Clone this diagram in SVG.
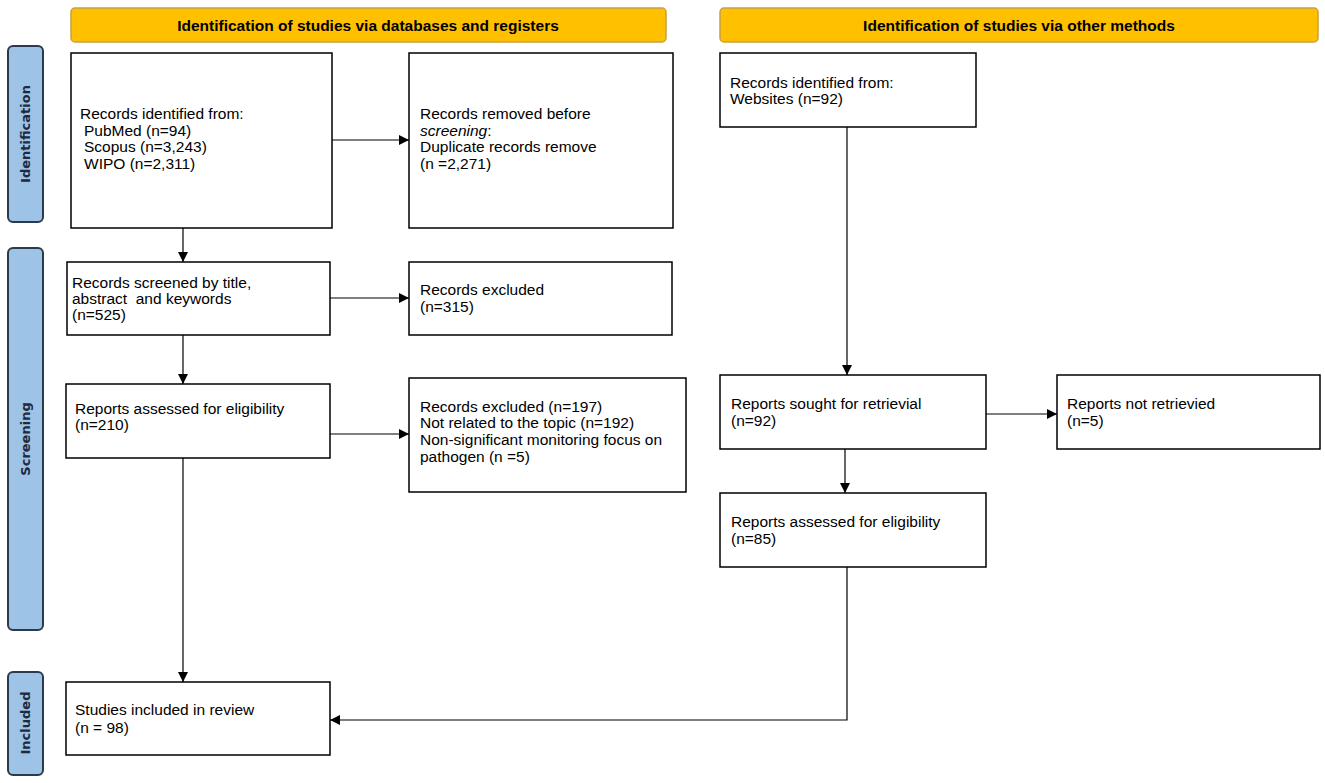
<svg xmlns="http://www.w3.org/2000/svg" width="1325" height="783" viewBox="0 0 1325 783">
<defs>
<marker id="arr" viewBox="0 0 10 10" refX="10" refY="5" markerWidth="10" markerHeight="10" markerUnits="userSpaceOnUse" orient="auto">
<path d="M0,0 L10,5 L0,10 z" fill="#000"/>
</marker>
</defs>
<style>
.box{fill:#fff;stroke:#000;stroke-width:1.5}
.hdr{fill:#FFC000;stroke:#C8A040;stroke-width:1.5}
.side{fill:#9DC3E6;stroke:#2B3A4F;stroke-width:2}
.t{font-family:"Liberation Sans",Arial,sans-serif;font-size:15.5px;fill:#000;white-space:pre}
.h{font-family:"Liberation Sans",Arial,sans-serif;font-size:15.5px;font-weight:bold;fill:#000;text-anchor:middle}
.s{font-family:"DejaVu Sans","Liberation Sans",sans-serif;font-size:13px;font-weight:bold;fill:#1F2A3F;text-anchor:middle}
.c{fill:none;stroke:#000;stroke-width:1.2}
</style>
<rect width="1325" height="783" fill="#fff"/>
<g id="header-databases"><rect class="hdr" x="71" y="8" width="595" height="34" rx="4"/><text class="h" x="368" y="31">Identification of studies via databases and registers</text></g>
<g id="header-other"><rect class="hdr" x="720" y="8" width="598" height="34" rx="4"/><text class="h" x="1019" y="31">Identification of studies via other methods</text></g>
<g id="side-identification"><rect class="side" x="8" y="46" width="35" height="176" rx="5"/><text class="s" transform="translate(30,134) rotate(-90)">Identification</text></g>
<g id="side-screening"><rect class="side" x="8" y="248" width="35" height="382" rx="5"/><text class="s" transform="translate(30,439) rotate(-90)">Screening</text></g>
<g id="side-included"><rect class="side" x="8" y="672" width="35" height="103" rx="5"/><text class="s" transform="translate(30,723) rotate(-90)">Included</text></g>
<g id="connectors">
<line class="c" x1="332" y1="140" x2="409" y2="140" marker-end="url(#arr)"/>
<line class="c" x1="183" y1="228" x2="183" y2="262" marker-end="url(#arr)"/>
<line class="c" x1="330" y1="298" x2="409" y2="298" marker-end="url(#arr)"/>
<line class="c" x1="183" y1="335" x2="183" y2="384" marker-end="url(#arr)"/>
<line class="c" x1="330" y1="434" x2="409" y2="434" marker-end="url(#arr)"/>
<line class="c" x1="183" y1="458" x2="183" y2="682" marker-end="url(#arr)"/>
<line class="c" x1="847" y1="127" x2="847" y2="375" marker-end="url(#arr)"/>
<line class="c" x1="986" y1="414" x2="1057" y2="414" marker-end="url(#arr)"/>
<line class="c" x1="845" y1="449" x2="845" y2="493" marker-end="url(#arr)"/>
<polyline class="c" points="847,567 847,720 330,720" marker-end="url(#arr)"/>
</g>
<g id="records-identified"><rect class="box" x="71" y="53" width="261" height="175"/>
<text class="t" x="80" y="119">Records identified from:</text>
<text class="t" x="84" y="136">PubMed (n=94)</text>
<text class="t" x="84" y="152">Scopus (n=3,243)</text>
<text class="t" x="84" y="169">WIPO (n=2,311)</text></g>
<g id="records-removed"><rect class="box" x="409" y="53" width="264" height="175"/>
<text class="t" x="420" y="119">Records removed before</text>
<text class="t" x="420" y="136"><tspan font-style="italic">screening</tspan>:</text>
<text class="t" x="420" y="152">Duplicate records remove</text>
<text class="t" x="420" y="169">(n =2,271)</text></g>
<g id="records-screened"><rect class="box" x="67" y="262" width="263" height="73"/>
<text class="t" x="72" y="288">Records screened by title,</text>
<text class="t" x="72" y="304" xml:space="preserve">abstract  and keywords</text>
<text class="t" x="72" y="320">(n=525)</text></g>
<g id="records-excluded-315"><rect class="box" x="409" y="262" width="263" height="73"/>
<text class="t" x="420" y="295">Records excluded</text>
<text class="t" x="420" y="312">(n=315)</text></g>
<g id="reports-assessed-210"><rect class="box" x="66" y="384" width="264" height="74"/>
<text class="t" x="75" y="414">Reports assessed for eligibility</text>
<text class="t" x="75" y="430">(n=210)</text></g>
<g id="records-excluded-197"><rect class="box" x="409" y="378" width="277" height="114"/>
<text class="t" x="420" y="412">Records excluded (n=197)</text>
<text class="t" x="420" y="428">Not related to the topic (n=192)</text>
<text class="t" x="420" y="445">Non-significant monitoring focus on</text>
<text class="t" x="420" y="462">pathogen (n =5)</text></g>
<g id="studies-included"><rect class="box" x="66" y="682" width="264" height="73"/>
<text class="t" x="75" y="715">Studies included in review</text>
<text class="t" x="75" y="733">(n = 98)</text></g>
<g id="records-websites"><rect class="box" x="720" y="53" width="256" height="74"/>
<text class="t" x="730" y="88">Records identified from:</text>
<text class="t" x="730" y="104">Websites (n=92)</text></g>
<g id="reports-sought"><rect class="box" x="720" y="375" width="266" height="74"/>
<text class="t" x="731" y="409">Reports sought for retrievial</text>
<text class="t" x="731" y="426">(n=92)</text></g>
<g id="reports-not-retrieved"><rect class="box" x="1057" y="375" width="263" height="74"/>
<text class="t" x="1067" y="409">Reports not retrievied</text>
<text class="t" x="1067" y="426">(n=5)</text></g>
<g id="reports-assessed-85"><rect class="box" x="720" y="493" width="266" height="74"/>
<text class="t" x="731" y="527">Reports assessed for eligibility</text>
<text class="t" x="731" y="544">(n=85)</text></g>
</svg>
